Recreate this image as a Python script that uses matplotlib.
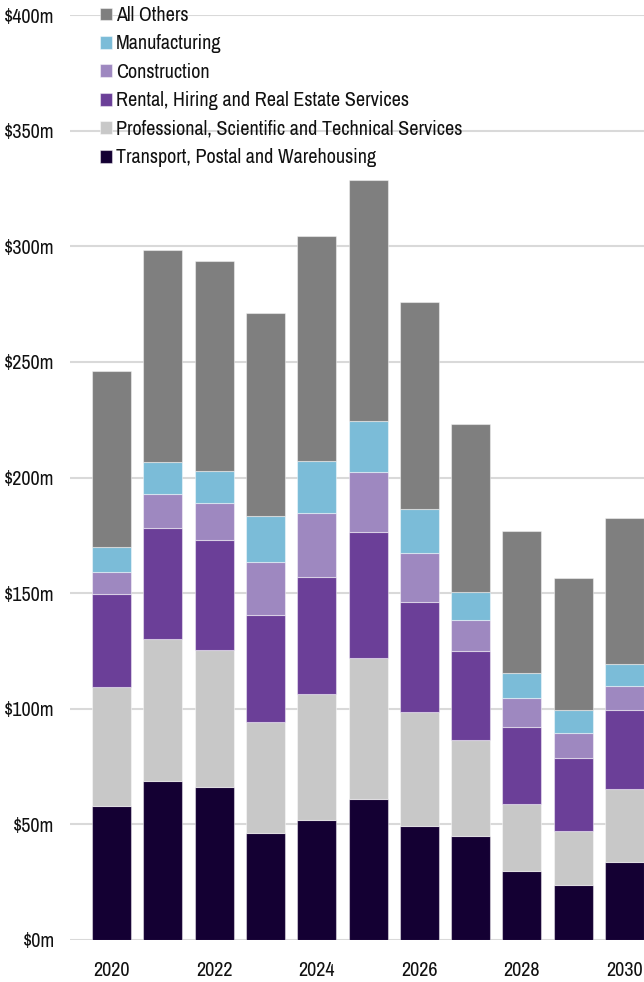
import matplotlib
matplotlib.use("Agg")
import matplotlib.pyplot as plt
import numpy as np

years = [2020, 2021, 2022, 2023, 2024, 2025, 2026, 2027, 2028, 2029, 2030]
transport = [58.1, 68.8, 66.0, 46.4, 51.9, 61.0, 49.2, 44.8, 30.0, 23.8, 33.9]
professional = [51.2, 61.2, 59.3, 48.0, 54.6, 61.0, 49.4, 41.5, 28.9, 23.5, 31.3]
rental = [40.3, 48.3, 47.8, 46.1, 50.6, 54.6, 47.4, 38.8, 33.3, 31.4, 34.3]
construction = [9.7, 14.7, 15.9, 23.1, 27.4, 25.9, 21.5, 13.3, 12.3, 10.8, 10.3]
manufacturing = [10.5, 13.7, 13.8, 19.7, 22.6, 22.1, 18.7, 11.9, 11.1, 9.8, 9.7]
all_others = [76.2, 91.7, 90.8, 87.8, 97.5, 104.2, 89.7, 72.7, 61.3, 57.1, 62.9]

series_names = ["Transport, Postal and Warehousing",
                "Professional, Scientific and Technical Services",
                "Rental, Hiring and Real Estate Services",
                "Construction",
                "Manufacturing",
                "All Others"]
series_values = [transport, professional, rental, construction, manufacturing, all_others]
colors = ["#140033", "#c8c8c8", "#6b3f98", "#9e88c0", "#7bbcd8", "#7f7f7f"]

yticks = [0, 50, 100, 150, 200, 250, 300, 350, 400]
ytick_labels = ["$0m", "$50m", "$100m", "$150m", "$200m", "$250m", "$300m", "$350m", "$400m"]
xtick_years = [2020, 2022, 2024, 2026, 2028, 2030]

plt.rcParams['font.family'] = ['Archivo Narrow', 'Liberation Sans', 'DejaVu Sans']
FS = 14.5

fig = plt.figure(figsize=(6.44, 9.82), dpi=100)
ax = fig.add_axes([70/644, 42/982, 1 - 70/644, (940-15)/982])

x = np.arange(len(years))
bottom = np.zeros(len(years))
handles = []
for name, vals, c in zip(series_names, series_values, colors):
    vals = np.array(vals)
    b = ax.bar(x, vals, bottom=bottom, width=0.76, color=c, label=name,
               edgecolor=(1, 1, 1, 0.45), linewidth=0.8, zorder=3)
    handles.append(b)
    bottom += vals

ax.set_ylim(0, 400)
ax.set_xlim(-0.81, 10.38)
ax.set_yticks(yticks)
ax.set_yticklabels(ytick_labels, fontsize=FS, color='#111111')
ax.set_xticks([years.index(y) for y in xtick_years])
ax.set_xticklabels([str(y) for y in xtick_years], fontsize=FS, color='#111111')
ax.tick_params(axis='both', length=0)
ax.tick_params(axis='x', pad=15)
ax.tick_params(axis='y', pad=11)
ax.grid(axis='y', color='#d9d9d9', linewidth=1.5, zorder=0)
ax.set_axisbelow(True)
for s in ax.spines.values():
    s.set_visible(False)

leg = fig.legend(handles[::-1], series_names[::-1], loc='upper left',
                 bbox_to_anchor=(100/644, 1 - 6/982), frameon=False, fontsize=FS,
                 handlelength=0.6, handleheight=0.6, handletextpad=0.2,
                 labelspacing=0.47, borderpad=0.0, borderaxespad=0.0)
for t in leg.get_texts():
    t.set_color('#111111')

fig.savefig("out.png", dpi=100)
